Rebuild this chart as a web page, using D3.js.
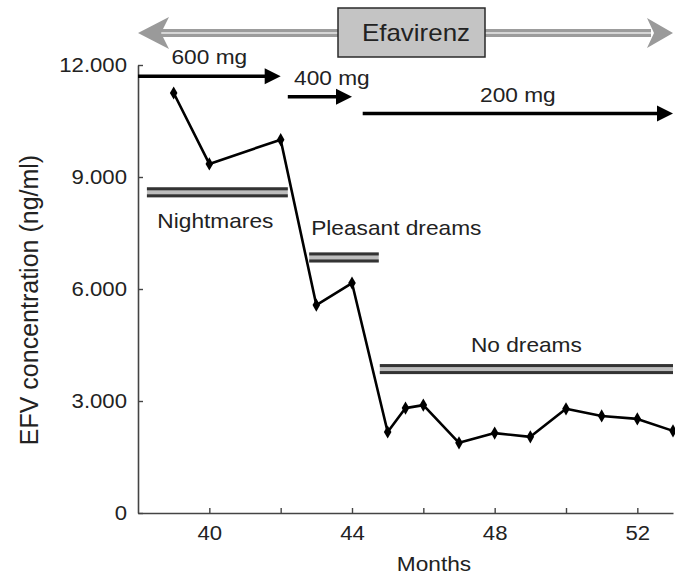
<!DOCTYPE html>
<html><head><meta charset="utf-8">
<script src="https://cdn.jsdelivr.net/npm/d3@7"></script>
<style>
body{margin:0;background:#fff}
text{font-family:"Liberation Sans",Arial,Helvetica,sans-serif;fill:#222}
</style>
</head><body>
<svg id="c" width="675" height="577"></svg>
<script>
// ---- data ----
const months = [39, 40, 42, 43, 44, 45, 45.5, 46, 47, 48, 49, 50, 51, 52, 53];
const efv    = [11250, 9350, 10000, 5570, 6160, 2170, 2810, 2890, 1880, 2140, 2040, 2790, 2600, 2520, 2200];

const xTicks = [40, 42, 44, 46, 48, 50, 52];
const xTickLabels = ["40", "", "44", "", "48", "", "52"];
const yTicks = [0, 3000, 6000, 9000, 12000];
const yTickLabels = ["0", "3.000", "6.000", "9.000", "12.000"];

const doseLabels = ["600 mg", "400 mg", "200 mg"];
const doseStart  = [38, 42.2, 44.3];
const doseEnd    = [42, 44, 53];
const doseLevel  = [11700, 11150, 10700];

const dreamLabels = ["Nightmares", "Pleasant dreams", "No dreams"];
const dreamStart  = [38.25, 42.8, 44.78];
const dreamEnd    = [42.2, 44.75, 53];
const dreamLevel  = [8590, 6845, 3855];

const drugLabel = "Efavirenz";
const xTitle = "Months";
const yTitle = "EFV concentration (ng/ml)";

// ---- scales ----
const x = d3.scaleLinear().domain([38, 53]).range([138, 673]);
const y = d3.scaleLinear().domain([0, 12000]).range([513, 65]);

const svg = d3.select("#c");

// ---- Efavirenz double arrow ----
const [x0, x1] = x.domain().map(x);
const ay = 33;
const band = svg.append("g");
band.append("rect").attr("x", x0 + 22).attr("y", ay - 4).attr("width", x1 - x0 - 44).attr("height", 8).attr("fill", "#9c9c9c");
band.append("rect").attr("x", x0 + 22).attr("y", ay - 1).attr("width", x1 - x0 - 44).attr("height", 2).attr("fill", "#d6d6d6");
band.append("path").attr("fill", "#9a9a9a")
  .attr("d", `M${x0},${ay} L${x0 + 31},${ay - 16} L${x0 + 23},${ay} L${x0 + 31},${ay + 16} Z`);
band.append("path").attr("fill", "#9a9a9a")
  .attr("d", `M${x1},${ay} L${x1 - 26},${ay - 15} L${x1 - 19},${ay} L${x1 - 26},${ay + 15} Z`);
band.append("rect").attr("x", 338).attr("y", 8).attr("width", 147).attr("height", 49)
  .attr("fill", "#c4c4c4").attr("stroke", "#2a2a2a").attr("stroke-width", 1.5);
band.append("text").attr("class", "wide").attr("x", 416).attr("y", 41).attr("text-anchor", "middle")
  .attr("font-size", 24).text(drugLabel);

// ---- axes ----
const gx = svg.append("g").attr("transform", `translate(0,${y(0)})`)
  .call(d3.axisBottom(x).tickValues(xTicks).tickSizeInner(-5).tickSizeOuter(0).tickPadding(12)
    .tickFormat((d, i) => xTickLabels[i]));
const gy = svg.append("g").attr("transform", `translate(${x(38)},0)`)
  .call(d3.axisLeft(y).tickValues(yTicks).tickSizeInner(-5).tickSizeOuter(0).tickPadding(11)
    .tickFormat((d, i) => yTickLabels[i]));
[gx, gy].forEach(g => {
  g.select(".domain").attr("stroke", "#444").attr("stroke-width", 1.6);
  g.selectAll(".tick line").attr("stroke", "#444").attr("stroke-width", 1.4);
  g.selectAll(".tick text").attr("class", "wide").attr("font-size", 20.5).attr("fill", "#222")
    .style("font-family", '"Liberation Sans",Arial,sans-serif');
});

svg.append("text").attr("class", "wide").attr("x", 434).attr("y", 571).attr("text-anchor", "middle")
  .attr("font-size", 21).text(xTitle);
svg.append("text").attr("transform", `translate(38,300) rotate(-90)`).attr("text-anchor", "middle")
  .attr("font-size", 25).text(yTitle);

// ---- dose arrows ----
const dose = svg.append("g");
doseLabels.forEach((lab, i) => {
  const xa = x(doseStart[i]), xb = x(doseEnd[i]), yy = y(doseLevel[i]);
  dose.append("line").attr("x1", xa).attr("x2", xb - 12).attr("y1", yy).attr("y2", yy)
    .attr("stroke", "#000").attr("stroke-width", 3.5);
  dose.append("path").attr("fill", "#000")
    .attr("d", `M${xb},${yy} L${xb - 16},${yy - 8} L${xb - 16},${yy + 8} Z`);
  dose.append("text").attr("class", "wide").attr("x", (xa + xb) / 2 + (i === 1 ? 12 : 0)).attr("y", yy - 12)
    .attr("text-anchor", "middle").attr("font-size", 21).text(lab);
});

// ---- dream bars ----
const dream = svg.append("g");
dreamLabels.forEach((lab, i) => {
  const xa = x(dreamStart[i]), xb = x(dreamEnd[i]), yy = y(dreamLevel[i]);
  dream.append("rect").attr("x", xa).attr("y", yy - 5).attr("width", xb - xa).attr("height", 10).attr("fill", "#bdbdbd");
  dream.append("rect").attr("x", xa).attr("y", yy - 5).attr("width", xb - xa).attr("height", 3).attr("fill", "#333");
  dream.append("rect").attr("x", xa).attr("y", yy + 2).attr("width", xb - xa).attr("height", 3).attr("fill", "#333");
  const t = dream.append("text").attr("class", "wide").attr("font-size", 21).text(lab);
  if (i === 0) t.attr("x", (xa + xb) / 2 - 2).attr("y", yy + 36).attr("text-anchor", "middle");
  else if (i === 1) t.attr("x", xa + 2).attr("y", yy - 22);
  else t.attr("x", (xa + xb) / 2).attr("y", yy - 17).attr("text-anchor", "middle");
});

// ---- data line ----
const pts = months.map((m, i) => [m, efv[i]]);
svg.append("path").datum(pts)
  .attr("fill", "none").attr("stroke", "#000").attr("stroke-width", 2.6).attr("stroke-linejoin", "round")
  .attr("d", d3.line().x(d => x(d[0])).y(d => y(d[1])));
svg.append("g").selectAll("path").data(pts).join("path")
  .attr("transform", d => `translate(${x(d[0])},${y(d[1])})`)
  .attr("d", d3.symbol(d3.symbolDiamond, 50))
  .attr("fill", "#000");

// slight horizontal widening of horizontal labels, like the reference lettering
svg.selectAll("text.wide").each(function () {
  const w = this.getComputedTextLength();
  if (w > 0) d3.select(this).attr("textLength", w * 1.08).attr("lengthAdjust", "spacingAndGlyphs");
});
</script>
</body></html>
